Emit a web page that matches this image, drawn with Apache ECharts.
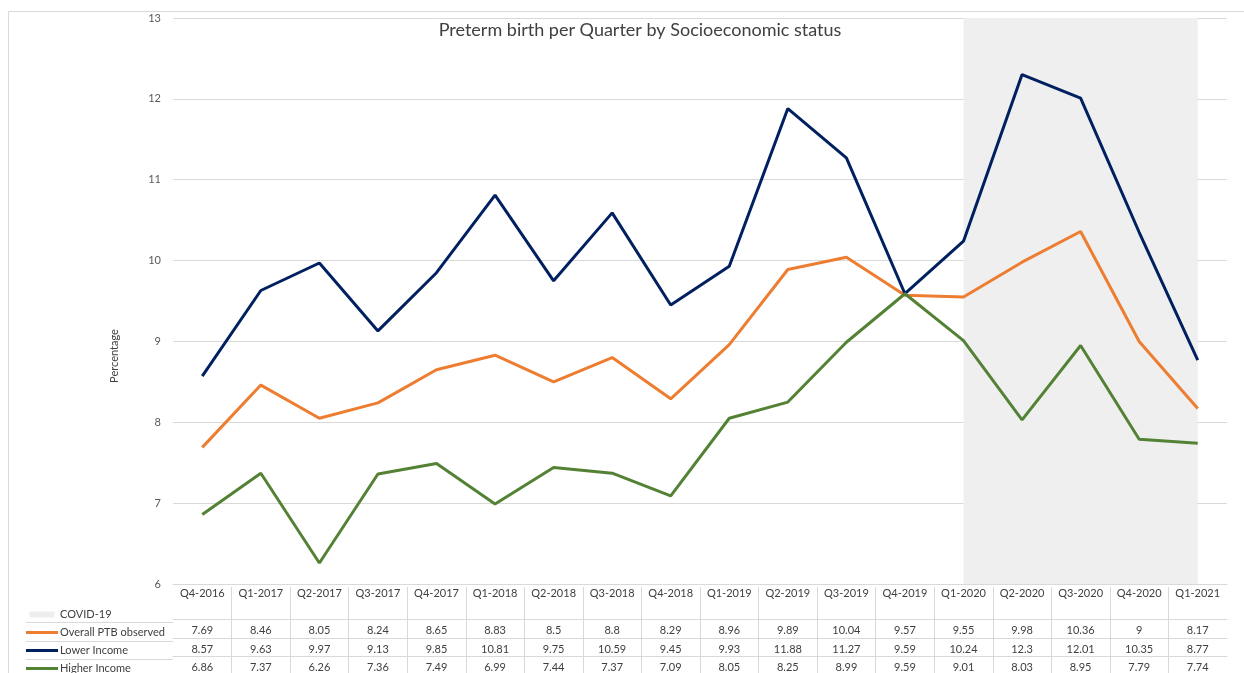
<!DOCTYPE html>
<html>
<head>
<meta charset="utf-8">
<script src="https://cdn.jsdelivr.net/npm/echarts@6/dist/echarts.min.js"></script>
<style>
  html, body { margin: 0; padding: 0; background: #fff; }
  #chart { width: 1244px; height: 673px; }
</style>
</head>
<body>
<div id="chart"></div>
<script>
const quarters = ['Q4-2016', 'Q1-2017', 'Q2-2017', 'Q3-2017', 'Q4-2017', 'Q1-2018', 'Q2-2018', 'Q3-2018', 'Q4-2018',
  'Q1-2019', 'Q2-2019', 'Q3-2019', 'Q4-2019', 'Q1-2020', 'Q2-2020', 'Q3-2020', 'Q4-2020', 'Q1-2021'];
const overallPTB = [7.69, 8.46, 8.05, 8.24, 8.65, 8.83, 8.5, 8.8, 8.29, 8.96, 9.89, 10.04, 9.57, 9.55, 9.98, 10.36, 9, 8.17];
const lowerIncome = [8.57, 9.63, 9.97, 9.13, 9.85, 10.81, 9.75, 10.59, 9.45, 9.93, 11.88, 11.27, 9.59, 10.24, 12.3, 12.01, 10.35, 8.77];
const higherIncome = [6.86, 7.37, 6.26, 7.36, 7.49, 6.99, 7.44, 7.37, 7.09, 8.05, 8.25, 8.99, 9.59, 9.01, 8.03, 8.95, 7.79, 7.74];
const covidPeriod = ['Q1-2020', 'Q1-2021'];
const yTicks = { min: 6, max: 13, interval: 1 };

const font = 'Lato, "Open Sans", sans-serif';
const chartW = 1244, chartH = 673;
const gridLeft = 173, gridRight = 17, gridTop = 18, gridBottom = 86;
const plotBottom = chartH - gridBottom;
const bandW = (chartW - gridLeft - gridRight) / quarters.length;
// table row rules (offset below the plot's bottom edge)
const rowOffsets = [35, 54, 72];
const ruleColor = '#d9d9d9';
const textColor = '#404040';

const chart = echarts.init(document.getElementById('chart'));

// one extra x axis per data row of the table under the plot
function tableRow(values, offset) {
  return {
    type: 'category',
    data: quarters,
    position: 'bottom',
    offset: offset,
    axisLine: { show: true, lineStyle: { color: ruleColor, width: 1 } },
    axisTick: { show: false },
    axisLabel: {
      interval: 0, margin: 5, fontSize: 11, lineHeight: 12, color: textColor, fontFamily: font,
      formatter: (v, i) => String(values[i])
    }
  };
}

const option = {
  animation: false,
  textStyle: { fontFamily: font },
  title: {
    text: 'Preterm birth per Quarter by Socioeconomic status',
    left: 635, top: 16, textAlign: 'center',
    textStyle: { fontSize: 18, fontWeight: 'normal', color: textColor, fontFamily: font }
  },
  legend: {
    orient: 'vertical',
    left: 26, top: 608, height: 70,
    padding: 0,
    itemWidth: 32, itemHeight: 6, itemGap: 5,
    selectedMode: false,
    textStyle: { fontSize: 11, lineHeight: 13, color: textColor, fontFamily: font, padding: [0, 0, 0, -3] },
    data: [
      { name: 'COVID-19', icon: 'path://M0 0H25V6H0Z' },
      { name: 'Overall PTB observed', icon: 'path://M0 0H32V3H0Z' },
      { name: 'Lower Income', icon: 'path://M0 0H32V3H0Z' },
      { name: 'Higher Income', icon: 'path://M0 0H32V3H0Z' }
    ]
  },
  grid: [
    { left: gridLeft, right: gridRight, top: gridTop, bottom: gridBottom },
    // spans the inner column boundaries of the table, used only for its separators
    { left: gridLeft + bandW, right: gridRight + bandW, top: gridTop, bottom: gridBottom }
  ],
  xAxis: [
    {
      type: 'category',
      data: quarters,
      position: 'bottom',
      axisLine: { show: true, lineStyle: { color: ruleColor } },
      axisTick: { show: false },
      axisLabel: { interval: 0, margin: 3, fontSize: 11, lineHeight: 12, color: textColor, fontFamily: font }
    },
    tableRow(overallPTB, rowOffsets[0]),
    tableRow(lowerIncome, rowOffsets[1]),
    tableRow(higherIncome, rowOffsets[2]),
    {
      type: 'value',
      gridIndex: 1,
      min: 1, max: quarters.length - 1, interval: 1,
      position: 'bottom',
      axisLine: { show: false },
      axisLabel: { show: false },
      splitLine: { show: false },
      axisTick: { show: true, length: 90, lineStyle: { color: ruleColor } }
    }
  ],
  yAxis: [
    {
      type: 'value',
      min: yTicks.min, max: yTicks.max, interval: yTicks.interval,
      name: 'Percentage',
      nameLocation: 'middle',
      nameGap: 53,
      nameRotate: 90,
      nameTextStyle: { fontSize: 11, color: textColor, fontFamily: font, padding: [0, 110, 0, 0] },
      axisLine: { show: false },
      axisTick: { show: false },
      axisLabel: { margin: 12, fontSize: 11, color: '#595959', fontFamily: font },
      splitLine: { lineStyle: { color: ruleColor, width: 1 } }
    },
    { type: 'value', gridIndex: 1, show: false }
  ],
  graphic: [
    {
      type: 'rect', silent: true, z: -10,
      shape: { x: 8.5, y: 11.5, width: 1300, height: 700 },
      style: { fill: 'none', stroke: ruleColor, lineWidth: 1 }
    }
  ].concat(rowOffsets.map(off => ({
    type: 'line', silent: true,
    shape: { x1: 26, y1: plotBottom + off + 0.5, x2: gridLeft, y2: plotBottom + off + 0.5 },
    style: { stroke: ruleColor, lineWidth: 1 }
  }))),
  series: [
    {
      name: 'COVID-19',
      type: 'line',
      z: -1,
      data: [],
      itemStyle: { color: '#eeeeee' },
      lineStyle: { color: '#eeeeee' },
      markArea: {
        silent: true,
        itemStyle: { color: '#efefef' },
        data: [[{ xAxis: covidPeriod[0] }, { xAxis: covidPeriod[1] }]]
      }
    },
    {
      name: 'Overall PTB observed',
      type: 'line',
      data: overallPTB,
      symbol: 'none',
      color: '#ed7d31',
      lineStyle: { width: 3 }
    },
    {
      name: 'Lower Income',
      type: 'line',
      data: lowerIncome,
      symbol: 'none',
      color: '#002060',
      lineStyle: { width: 3 }
    },
    {
      name: 'Higher Income',
      type: 'line',
      data: higherIncome,
      symbol: 'none',
      color: '#548235',
      lineStyle: { width: 3 }
    }
  ]
};

chart.setOption(option);
window.addEventListener('resize', () => chart.resize());
</script>
</body>
</html>
